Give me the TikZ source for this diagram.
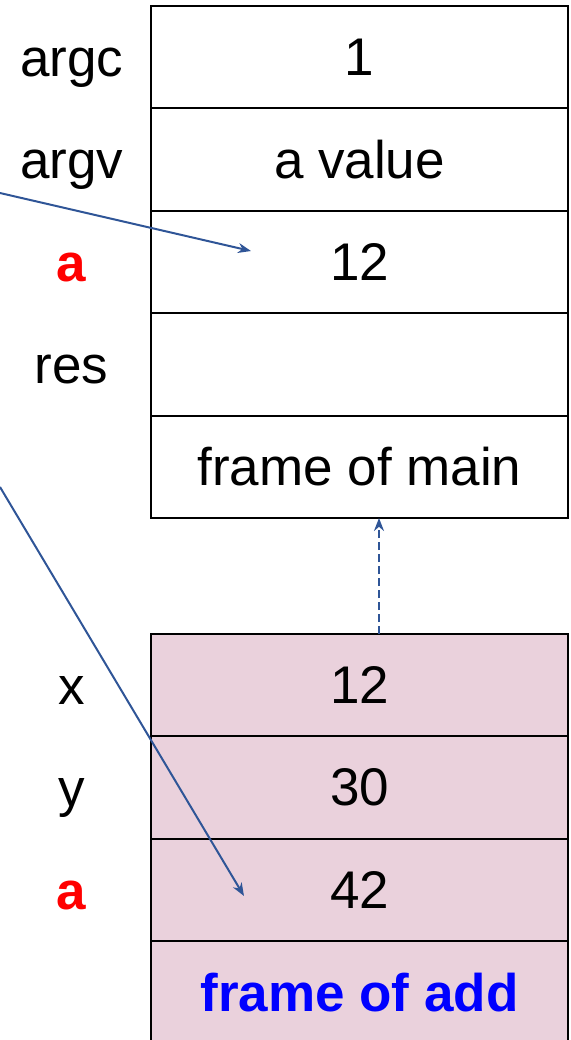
\documentclass[tikz,border=0pt]{standalone}
\usepackage{fontspec}
\setmainfont{Liberation Sans}
\usepackage{xcolor}
\usetikzlibrary{calc, positioning, arrows.meta}
\definecolor{ptrblue}{HTML}{2F5597}
\definecolor{framepink}{HTML}{EAD1DC}
\definecolor{varred}{HTML}{FF0000}
\definecolor{framename}{HTML}{0000FF}

\begin{document}
\begin{tikzpicture}[
  x=0.5pt, y=-0.5pt,
  cell/.style={draw, line width=1pt, minimum width=208.5pt, minimum height=51.2pt, inner sep=0pt, outer sep=0pt, align=center, font=\fontsize{26.5}{30}\selectfont},
  addcell/.style={cell, fill=framepink},
  lbl/.style={minimum width=79pt, inner sep=0pt, text height=19pt, text depth=0pt, align=center, font=\fontsize{26.5}{30}\selectfont},
  redlbl/.style={lbl, text=varred, font=\fontsize{26.5}{30}\selectfont\bfseries},
  ptr/.style={-{Stealth[length=6.5pt, width=5pt]}, line width=1pt, color=ptrblue},
  dasharr/.style={ptr, dash pattern=on 4pt off 2pt}
]
\useasboundingbox (0,0) rectangle (571,1040);

% frame of main
\node[cell] (argc) at (359.5,57.2) {1};
\node[cell, below=0pt of argc] (argv) {a value};
\node[cell, below=0pt of argv] (ma) {12};
\node[cell, below=0pt of ma] (res) {};
\node[cell, below=0pt of res] (mainfr) {frame of main};

\node[lbl, left=0pt of argc] (largc) {argc};
\node[lbl, left=0pt of argv] (largv) {argv};
\node[redlbl, left=0pt of ma] (lma) {a};
\node[lbl, left=0pt of res] (lres) {res};

% frame of add
\node[addcell] (x) at (359.5,685.2) {12};
\node[addcell, below=0pt of x] (y) {30};
\node[addcell, below=0pt of y] (aa) {42};
\node[addcell, below=0pt of aa, text=framename, font=\fontsize{26.5}{30}\selectfont\bfseries] (addfr) {frame of add};

\node[lbl, left=0pt of x] (lx) {x};
\node[lbl, left=0pt of y] (ly) {y};
\node[redlbl, left=0pt of aa] (laa) {a};

% pointers
\coordinate (src1) at (0,193);
\coordinate (dst1) at (251,251);
\coordinate (src2) at (0,487);
\coordinate (dst2) at (244,896);
\draw[ptr] (src1) -- (dst1);
\draw[ptr] (src2) -- (dst2);

\draw[dasharr] ($(x.north)+(9.75pt,0)$) -- ($(mainfr.south)+(9.75pt,0)$);

\end{tikzpicture}
\end{document}
